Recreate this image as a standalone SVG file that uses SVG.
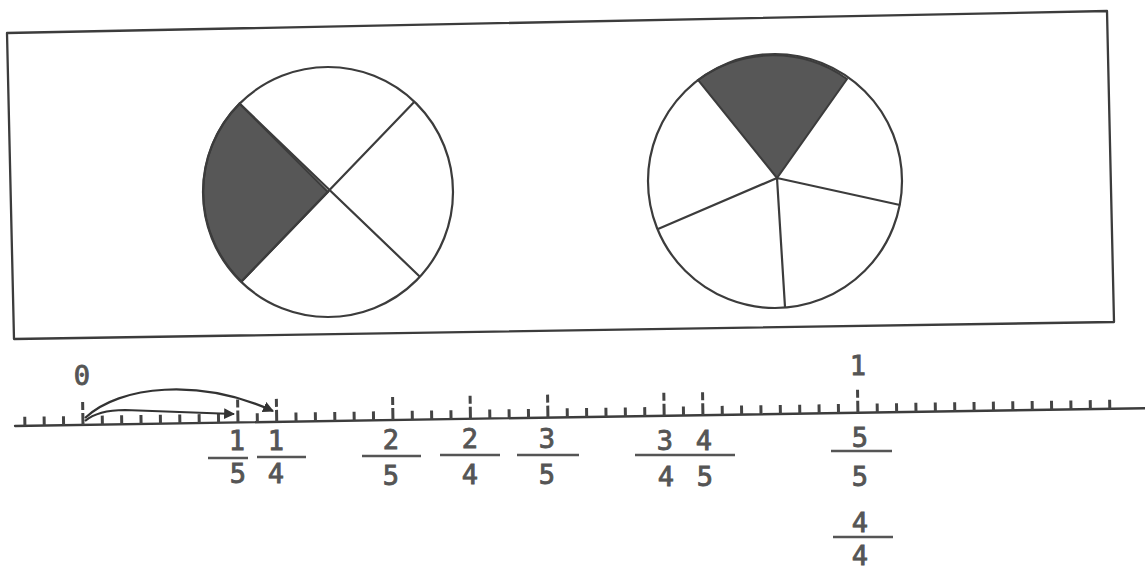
<svg xmlns="http://www.w3.org/2000/svg" width="1145" height="571" viewBox="0 0 1145 571">
<defs>
<style>
.ln{stroke:#3c3c3c;stroke-width:2.3;fill:none;stroke-linecap:round;stroke-linejoin:round}
.pie{stroke:#3c3c3c;stroke-width:2.2;fill:none}
.shade{fill:#575757;stroke:#3c3c3c;stroke-width:2}
.tick{stroke:#444;stroke-width:3;fill:none}
.num{font-family:"DejaVu Sans Mono","Liberation Mono",monospace;font-size:27px;fill:#555;stroke:#555;stroke-width:0.9;text-anchor:middle}
.bar{stroke:#555;stroke-width:2.6}
.arc{stroke:#333;stroke-width:2.2;fill:none}
</style>
<marker id="ah" viewBox="0 0 10 10" refX="9" refY="5" markerWidth="5" markerHeight="5" orient="auto" markerUnits="strokeWidth">
<path d="M0,0 L10,5 L0,10 Z" fill="#333"/>
</marker>
</defs>
<rect width="1145" height="571" fill="#ffffff"/>
<g id="frame">
<path class="ln" d="M7,33 L1107,11 L1114,322 L14,339 Z"/>
</g>
<g id="circle-quarters">
<path class="shade" d="M328,192 L239.5,103.5 A125,125 0 0 0 241.5,281.5 Z"/>
<circle class="pie" cx="328" cy="192" r="125"/>
<path class="pie" d="M239.5,103.5 L419.9,276.7 M414.4,101.7 L241.5,281.5"/>
</g>
<g id="circle-fifths">
<path class="shade" d="M777,178 L698,80 A127,127 0 0 1 847,79 Z"/>
<circle class="pie" cx="775" cy="181" r="127"/>
<path class="pie" d="M777,178 L900,205 M777,178 L785,307 M777,178 L658,229"/>
</g>
<g id="number-line" transform="rotate(-0.9 15 426)">
<path class="ln" d="M15,426 L1145,426"/>
<path class="tick" d="M24.9,426V417M44.25,426V417M63.6,426V417M102.4,426V417M121.75,426V417M141.1,426V417M160.5,426V417M179.9,426V417M199.25,426V417M218.6,426V417M257.4,426V417M296.1,426V417M315.5,426V417M334.9,426V417M354.25,426V417M373.6,426V417M412.4,426V417M431.75,426V417M451.1,426V417M489.9,426V417M509.25,426V417M528.6,426V417M567.4,426V417M586.75,426V417M606.1,426V417M625.5,426V417M644.9,426V417M683.6,426V417M722.4,426V417M741.75,426V417M761.1,426V417M780.5,426V417M799.9,426V417M819.25,426V417M838.6,426V417M877.4,426V417M896.75,426V417M916.1,426V417M935.5,426V417M954.9,426V417M974.25,426V417M993.6,426V417M1013,426V417M1032.4,426V417M1051.75,426V417M1071.1,426V417M1090.5,426V417M1109.9,426V417"/>
<path class="tick" d="M83,426V414M83,411V403M238,426V414M238,411V403M276.75,426V414M276.75,411V403M393,426V414M393,411V403M470.5,426V414M470.5,411V403M548,426V414M548,411V403M664.25,426V414M664.25,411V403M703,426V414M703,411V403M858,426V414M858,411V403"/>
</g>
<g id="label-0"><text class="num" x="82" y="385">0</text></g>
<g id="label-1"><text class="num" x="858" y="375">1</text></g>
<g id="frac-1-5"><text class="num" x="237" y="450">1</text><line class="bar" x1="208" y1="458" x2="248" y2="458"/><text class="num" x="238" y="483">5</text></g>
<g id="frac-1-4"><text class="num" x="276" y="450">1</text><line class="bar" x1="257" y1="457" x2="306" y2="457"/><text class="num" x="276" y="483">4</text></g>
<g id="frac-2-5"><text class="num" x="391" y="449">2</text><line class="bar" x1="362" y1="456" x2="421" y2="456"/><text class="num" x="391" y="485">5</text></g>
<g id="frac-2-4"><text class="num" x="470" y="448">2</text><line class="bar" x1="440" y1="455" x2="500" y2="455"/><text class="num" x="470" y="484">4</text></g>
<g id="frac-3-5"><text class="num" x="547" y="448">3</text><line class="bar" x1="517" y1="455" x2="579" y2="455"/><text class="num" x="547" y="484">5</text></g>
<g id="frac-3-4-4-5"><text class="num" x="665" y="450">3</text><text class="num" x="704" y="450">4</text><line class="bar" x1="635" y1="455" x2="735" y2="455"/><text class="num" x="666" y="486">4</text><text class="num" x="705" y="486">5</text></g>
<g id="frac-5-5"><text class="num" x="860" y="447">5</text><line class="bar" x1="831" y1="451" x2="892" y2="451"/><text class="num" x="860" y="486">5</text></g>
<g id="frac-4-4"><text class="num" x="860" y="532">4</text><line class="bar" x1="833" y1="537" x2="893" y2="537"/><text class="num" x="860" y="565">4</text></g>
<g id="connectors">
<path class="arc" marker-end="url(#ah)" d="M85,418 C120,385 200,378 273,411"/>
<path class="arc" marker-end="url(#ah)" d="M85,421 Q98,410 125,410 L234,414"/>
</g>
</svg>
